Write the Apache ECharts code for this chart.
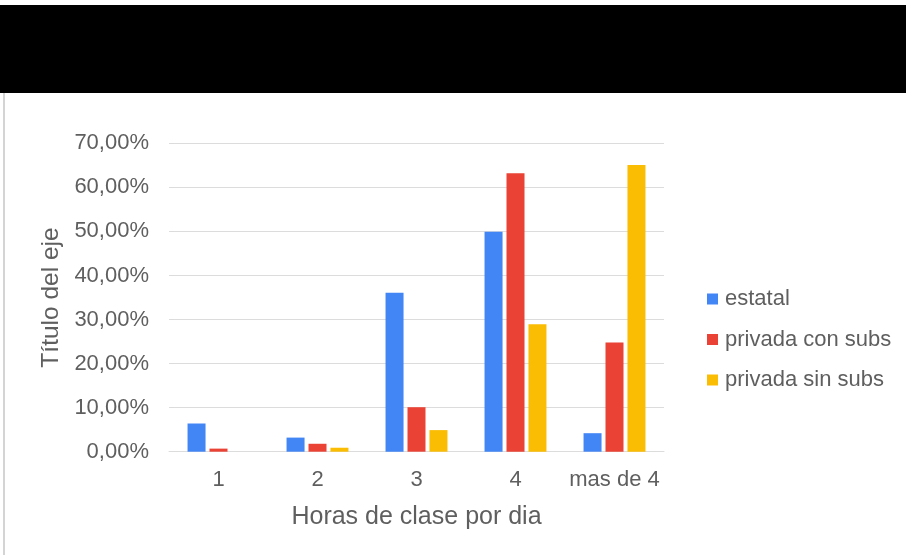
<!DOCTYPE html>
<html>
<head>
<meta charset="utf-8">
<script src="https://cdn.jsdelivr.net/npm/echarts@6/dist/echarts.min.js"></script>
<style>
html,body{margin:0;padding:0;background:#fff;}
#c{width:906px;height:555px;}
</style>
</head>
<body>
<div id="c"></div>
<script>
const categories = ['1', '2', '3', '4', 'mas de 4'];
const seriesNames = ['estatal', 'privada con subs', 'privada sin subs'];
const estatal = [6.4, 3.2, 36.1, 49.9, 4.2];
const privadaConSubs = [0.7, 1.8, 10.1, 63.2, 24.8];
const privadaSinSubs = [0, 0.9, 4.9, 28.9, 65.1];
const colors = ['#4285F4', '#EA4335', '#FBBC04'];
const xTitle = 'Horas de clase por dia';
const yTitle = 'Título del eje';

const font = "'Liberation Sans', Arial, sans-serif";
const txt = '#5f5f5f';
const chart = echarts.init(document.getElementById('c'), null, {renderer: 'canvas'});
const mk = (name, data, i) => ({
  name, type: 'bar', data,
  barWidth: 18, barGap: '22%',
  itemStyle: {color: colors[i]},
  emphasis: {disabled: true}
});
chart.setOption({
  animation: false,
  backgroundColor: '#fff',
  textStyle: {fontFamily: font},
  graphic: [
    {type: 'rect', shape: {x: 0, y: 5, width: 906, height: 88}, style: {fill: '#000'}},
    {type: 'rect', shape: {x: 3, y: 93, width: 2, height: 462}, style: {fill: '#d4d4d4'}}
  ],
  grid: {left: 169, right: 242, top: 143.3, bottom: 103.3, containLabel: false},
  legend: {
    orient: 'vertical', left: 702, top: 283,
    itemWidth: 11, itemHeight: 11, itemGap: 18.5,
    icon: 'rect',
    textStyle: {fontFamily: font, fontSize: 22, color: txt, lineHeight: 22, padding: [0, 0, 0, 2]},
    data: seriesNames
  },
  xAxis: {
    type: 'category', data: categories,
    axisLine: {lineStyle: {color: '#dcdcdc', width: 1}},
    axisTick: {show: false},
    axisLabel: {fontFamily: font, fontSize: 22, color: txt, margin: 17, interval: 0},
    name: xTitle, nameLocation: 'middle', nameGap: 53,
    nameTextStyle: {fontFamily: font, fontSize: 25, color: txt}
  },
  yAxis: {
    type: 'value', min: 0, max: 70, interval: 10,
    axisLine: {show: false}, axisTick: {show: false},
    splitLine: {lineStyle: {color: '#dcdcdc', width: 1}},
    axisLabel: {fontFamily: font, fontSize: 22, color: txt, margin: 20, padding: [4, 0, 0, 0],
      formatter: v => v.toFixed(2).replace('.', ',') + '%'},
    name: yTitle, nameLocation: 'middle', nameGap: 105,
    nameTextStyle: {fontFamily: font, fontSize: 24.5, color: txt}
  },
  series: [
    mk(seriesNames[0], estatal, 0),
    mk(seriesNames[1], privadaConSubs, 1),
    mk(seriesNames[2], privadaSinSubs, 2)
  ]
});
</script>
</body>
</html>
